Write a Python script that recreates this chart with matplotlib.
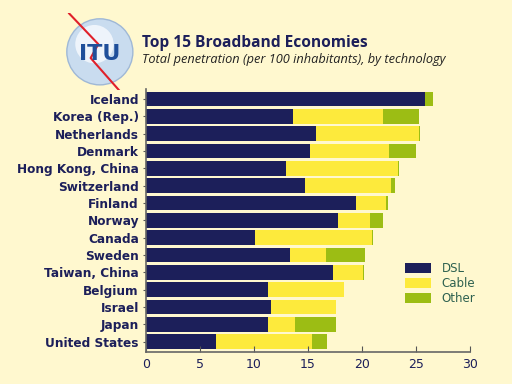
import numpy as np
import matplotlib
matplotlib.use("Agg")
import matplotlib.pyplot as plt
from matplotlib.patches import Circle, Rectangle

economies = ["Iceland", "Korea (Rep.)", "Netherlands", "Denmark", "Hong Kong, China",
             "Switzerland", "Finland", "Norway", "Canada", "Sweden", "Taiwan, China",
             "Belgium", "Israel", "Japan", "United States"]
dsl = [25.8, 13.6, 15.7, 15.2, 13.0, 14.7, 19.4, 17.8, 10.1, 13.3, 17.3, 11.3, 11.6, 11.3, 6.5]
cable = [0.0, 8.3, 9.6, 7.3, 10.3, 8.0, 2.8, 2.9, 10.8, 3.4, 2.8, 7.0, 6.0, 2.5, 8.9]
other = [0.8, 3.4, 0.1, 2.5, 0.1, 0.4, 0.2, 1.2, 0.1, 3.6, 0.05, 0.0, 0.0, 3.8, 1.4]
series_names = ["DSL", "Cable", "Other"]
colors = ["#1c1f5a", "#fdea3c", "#9cbd14"]

bg = "#fff8cf"
navy = "#1c1f5a"

fig = plt.figure(figsize=(5.12, 3.84), dpi=100, facecolor=bg)
ax = fig.add_axes([0.285, 0.083, 0.633, 0.684], facecolor=bg)

y = np.arange(len(economies))
d = np.array(dsl); c = np.array(cable); o = np.array(other)
h1 = ax.barh(y, d, height=0.84, color=colors[0], label=series_names[0])
h2 = ax.barh(y, c, left=d, height=0.84, color=colors[1], label=series_names[1])
h3 = ax.barh(y, o, left=d + c, height=0.84, color=colors[2], label=series_names[2])

ax.set_ylim(len(economies) - 0.4, -0.55)
ax.set_xlim(0, 30)
ax.set_xticks([0, 5, 10, 15, 20, 25, 30])
ax.set_yticks(y)
ax.set_yticklabels(economies, fontsize=8.7, fontweight="bold", color=navy)
ax.tick_params(axis="x", direction="in", length=4, colors="#555555", labelcolor=navy,
               labelsize=9, pad=4)
ax.tick_params(axis="y", direction="out", length=2, colors="#555555", labelcolor=navy, pad=3)
for s in ["top", "right"]:
    ax.spines[s].set_visible(False)
for s in ["left", "bottom"]:
    ax.spines[s].set_color("#666666")
    ax.spines[s].set_linewidth(1.2)

leg = ax.legend(handles=[h1, h2, h3], loc="lower right", bbox_to_anchor=(1.05, 0.14),
                frameon=False, fontsize=8.5, handlelength=2.2, handleheight=0.9,
                labelspacing=0.15, handletextpad=0.9)
for t in leg.get_texts():
    t.set_color("#2e6150")

# titles
fig.text(0.277, 0.878, "Top 15 Broadband Economies", fontsize=11.2, fontweight="bold",
         color=navy, family="Open Sans")
fig.text(0.277, 0.835, "Total penetration (per 100 inhabitants), by technology",
         fontsize=9.2, style="italic", color="#222222", family="Open Sans")

# ITU logo
lax = fig.add_axes([0.12, 0.76, 0.15, 0.21])
lax.set_xlim(0, 1); lax.set_ylim(0, 1); lax.set_aspect("equal"); lax.axis("off")
lax.add_patch(Circle((0.5, 0.5), 0.43, facecolor="#c9dcef", edgecolor="#9fb8d6", lw=1))
lax.add_patch(Circle((0.43, 0.6), 0.25, facecolor="#eef4fb", edgecolor="none"))
lax.text(0.5, 0.47, "ITU", ha="center", va="center", fontsize=16, fontweight="bold",
         color="#1f4f9a", family="DejaVu Sans")
lax.plot([0.1, 0.48, 0.38, 0.75], [1.0, 0.6, 0.42, 0.0], color="#e0202a", lw=1.5)

fig.savefig("out.png", dpi=100, facecolor=bg)
